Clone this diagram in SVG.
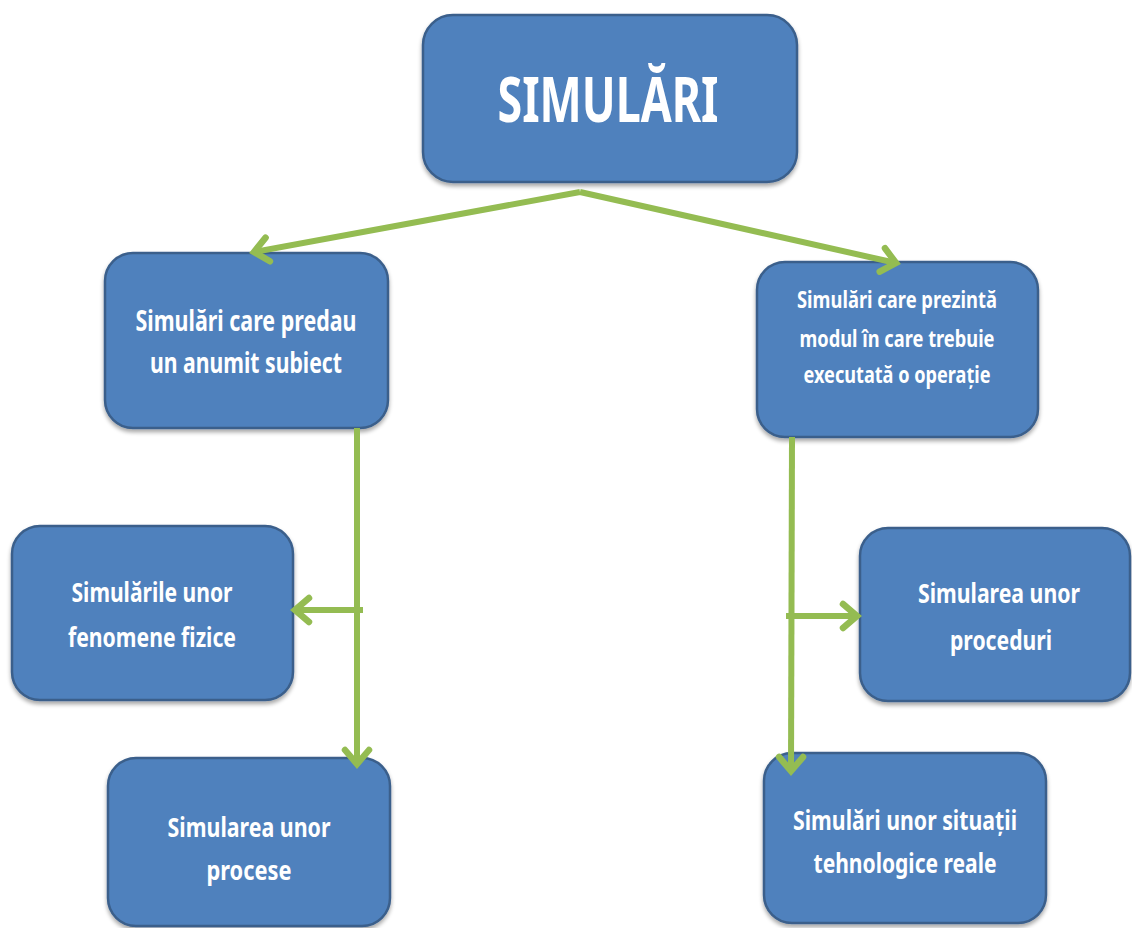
<svg xmlns="http://www.w3.org/2000/svg" width="1132" height="928" viewBox="0 0 1132 928">
  <style>
    .box { fill: #4F81BD; stroke: #3A5F8B; stroke-width: 2.5; filter: url(#shadow); }
    .lbl { fill: #FFFFFF; font-family: "Noto Sans", "Open Sans", sans-serif; font-weight: bold; text-anchor: middle; }
    .link { stroke: #94BC52; stroke-width: 6; fill: none; }
  </style>
  <defs>
    <filter id="shadow" x="-10%" y="-10%" width="120%" height="130%">
      <feGaussianBlur in="SourceAlpha" stdDeviation="2"/>
      <feOffset dx="0" dy="3" result="b"/>
      <feComponentTransfer><feFuncA type="linear" slope="0.35"/></feComponentTransfer>
      <feMerge><feMergeNode/><feMergeNode in="SourceGraphic"/></feMerge>
    </filter>
    <marker id="chev" viewBox="0 0 34 34" refX="26" refY="17" markerWidth="34" markerHeight="34" markerUnits="userSpaceOnUse" orient="auto">
      <path d="M12,5 L26,17 L12,29" fill="none" stroke="#94BC52" stroke-width="6.5" stroke-linecap="round" stroke-linejoin="miter"/>
    </marker>
  </defs>

  <g id="root">
    <rect class="box" x="423" y="15" width="374" height="167" rx="30"/>
    <text class="lbl" x="608" y="122" font-size="62" textLength="221" lengthAdjust="spacingAndGlyphs">SIMULĂRI</text>
  </g>

  <g id="teach">
    <rect class="box" x="105" y="253" width="283" height="175" rx="28"/>
    <text class="lbl" x="246" y="331" font-size="28" textLength="221" lengthAdjust="spacingAndGlyphs">Simulări care predau</text>
    <text class="lbl" x="246" y="373" font-size="28" textLength="192" lengthAdjust="spacingAndGlyphs">un anumit subiect</text>
  </g>

  <g id="operation">
    <rect class="box" x="757" y="262" width="281" height="175" rx="28"/>
    <text class="lbl" x="897" y="308" font-size="23" textLength="200" lengthAdjust="spacingAndGlyphs">Simulări care prezintă</text>
    <text class="lbl" x="897" y="347" font-size="23" textLength="195" lengthAdjust="spacingAndGlyphs">modul în care trebuie</text>
    <text class="lbl" x="897" y="383" font-size="23" textLength="187" lengthAdjust="spacingAndGlyphs">executată o operație</text>
  </g>

  <g id="physics">
    <rect class="box" x="12" y="526" width="281" height="174" rx="28"/>
    <text class="lbl" x="152" y="602" font-size="27" textLength="161" lengthAdjust="spacingAndGlyphs">Simulările unor</text>
    <text class="lbl" x="152" y="647" font-size="27" textLength="168" lengthAdjust="spacingAndGlyphs">fenomene fizice</text>
  </g>

  <g id="procedures">
    <rect class="box" x="860" y="528" width="270" height="173" rx="28"/>
    <text class="lbl" x="999" y="603" font-size="27" textLength="162" lengthAdjust="spacingAndGlyphs">Simularea unor</text>
    <text class="lbl" x="1001" y="650" font-size="27" textLength="102" lengthAdjust="spacingAndGlyphs">proceduri</text>
  </g>

  <g id="processes">
    <rect class="box" x="108" y="758" width="282" height="168" rx="28"/>
    <text class="lbl" x="249" y="837" font-size="27" textLength="163" lengthAdjust="spacingAndGlyphs">Simularea unor</text>
    <text class="lbl" x="249" y="880" font-size="27" textLength="85" lengthAdjust="spacingAndGlyphs">procese</text>
  </g>

  <g id="technology">
    <rect class="box" x="764" y="753" width="282" height="170" rx="28"/>
    <text class="lbl" x="905" y="830" font-size="27" textLength="224" lengthAdjust="spacingAndGlyphs">Simulări unor situații</text>
    <text class="lbl" x="905" y="873" font-size="27" textLength="183" lengthAdjust="spacingAndGlyphs">tehnologice reale</text>
  </g>

  <!-- connectors, drawn over the boxes so arrow tips overlap their edges -->
  <g id="connectors">
    <line class="link" x1="580" y1="192" x2="254" y2="252" marker-end="url(#chev)"/>
    <line class="link" x1="580" y1="192" x2="896" y2="263" marker-end="url(#chev)"/>
    <line class="link" x1="357" y1="428" x2="357" y2="764" marker-end="url(#chev)"/>
    <line class="link" x1="363" y1="610" x2="295" y2="610" marker-end="url(#chev)"/>
    <line class="link" x1="792" y1="437" x2="791" y2="771" marker-end="url(#chev)"/>
    <line class="link" x1="786" y1="616" x2="857" y2="616" marker-end="url(#chev)"/>
  </g>
</svg>
